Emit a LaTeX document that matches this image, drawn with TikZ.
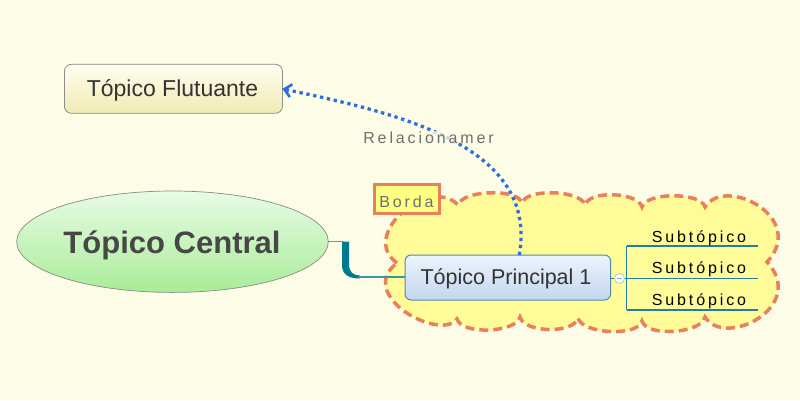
\documentclass[tikz,border=0pt]{standalone}
\usepackage{fontspec}
\setmainfont{Liberation Sans}
\newfontfamily\spaced[LetterSpace=18]{Liberation Sans}
\usetikzlibrary{arrows.meta,shapes.geometric}
\definecolor{bg}{HTML}{FDFCE6}
\definecolor{floattop}{HTML}{FFFDF0}
\definecolor{floatbot}{HTML}{F1EBB2}
\definecolor{floatborder}{HTML}{8C8C8C}
\definecolor{centtop}{HTML}{E8FBE6}
\definecolor{centbot}{HTML}{A8EC98}
\definecolor{centborder}{HTML}{8A8A8A}
\definecolor{princtop}{HTML}{EEF4FC}
\definecolor{princbot}{HTML}{C2D6EF}
\definecolor{princborder}{HTML}{4F8BA8}
\definecolor{teal}{HTML}{007A8E}
\definecolor{thinteal}{HTML}{3C96A2}
\definecolor{subline}{HTML}{1F7FA0}
\definecolor{cloudfill}{HTML}{FFFB98}
\definecolor{cloudline}{HTML}{E9805C}
\definecolor{bordafill}{HTML}{FFFF84}
\definecolor{relblue}{HTML}{2C6EE2}
\definecolor{labelgray}{HTML}{6E6E6E}
\definecolor{textdark}{HTML}{333333}
\begin{document}
\begin{tikzpicture}[x=1pt,y=-1pt,
  topicbox/.style={draw, rounded corners=7pt, inner sep=0pt, outer sep=0pt},
  txt/.style={anchor=base, inner sep=0pt, outer sep=0pt},
  subtxt/.style={txt, font=\spaced\fontsize{16}{18}\selectfont, text=black},
  spacedlbl/.style={txt, font=\spaced\fontsize{16}{18}\selectfont, text=labelgray},
  sublinestyle/.style={draw=subline, line width=1.2pt},
  rel/.style={draw=relblue, line width=3.3pt, dash pattern=on 3.3pt off 3.7pt,
     -{Straight Barb[length=7pt,width=13pt,line width=2.6pt]}}
]
\useasboundingbox (0,0) rectangle (800,400);
\fill[bg] (0,0) rectangle (800,400);

% cloud boundary
\draw[cloudline, fill=cloudfill, line width=3.5pt, dash pattern=on 9pt off 5pt]
  (397,263) .. controls (358,235) and (430,175) .. (458,205)
  .. controls (462,190) and (518,188) .. (522,203)
  .. controls (526,188) and (581,190) .. (585,205)
  .. controls (589,190) and (638,192) .. (642,207)
  .. controls (646,192) and (701,192) .. (705,207)
  .. controls (725,175) and (808,218) .. (767,262)
  .. controls (808,306) and (725,349) .. (705,317)
  .. controls (701,334) and (646,337) .. (642,321)
  .. controls (638,337) and (582,334) .. (578,318)
  .. controls (574,334) and (524,333) .. (520,317)
  .. controls (516,333) and (461,335) .. (457,319)
  .. controls (440,342) and (355,295) .. (397,263) -- cycle;

% Borda label
\node[draw=cloudline, line width=3pt, fill=bordafill, minimum width=65pt,
  minimum height=29pt, inner sep=0pt, outer sep=0pt] (borda) at (406.5,199) {};
\node[spacedlbl] (bordat) at (406.5,207.3) {Borda};

% central topic
\node[ellipse, draw=centborder, line width=0.7pt, top color=centtop, bottom color=centbot,
  minimum width=311.6pt, minimum height=101.4pt, inner sep=0pt, outer sep=0pt] (c) at (172.5,241.7) {};
\node[txt, font=\bfseries\fontsize{31}{36}\selectfont, text=textdark!90] (ct) at (172,253.3) {Tópico Central};

% floating topic
\node[topicbox, draw=floatborder, line width=0.8pt, top color=floattop, bottom color=floatbot,
  minimum width=218pt, minimum height=49pt] (f) at (173.4,88.8) {};
\node[txt, font=\fontsize{23}{27}\selectfont, text=textdark] (ft) at (172.5,96.7) {Tópico Flutuante};

% main topic
\node[topicbox, draw=princborder, line width=1pt, top color=princtop, bottom color=princbot,
  minimum width=205.5pt, minimum height=45pt, rounded corners=6pt] (p) at (507.8,277.5) {};
\node[txt, font=\fontsize{21.5}{25}\selectfont, text=textdark] (pt) at (506,284) {Tópico Principal 1};

% connector central -> main
\coordinate (k1) at (343,241.7);
\coordinate (k2) at (358,277);
\draw[floatborder, line width=1pt] (c.east) -- (k1);
\fill[teal] (342,241.7) -- (342,265) .. controls (342,274) and (348,278.5) .. (360,278.5)
  -- (360,275.5) .. controls (353,275.5) and (349,272) .. (349,264) -- (349,241.7) -- cycle;
\draw[thinteal, line width=1.8pt] (k2) -- (p.west |- k2);

% collapse button and subtopics
\coordinate (j) at (626.7,278.3);
\coordinate (jt) at (626.7,246);
\coordinate (jb) at (626.7,310);
\draw[sublinestyle] (p.east |- j) -- (j);
\draw[sublinestyle] (jt) -- (jb);
\draw[sublinestyle] (jt) -- (758,246);
\draw[sublinestyle] (j) -- (758,278.3);
\draw[sublinestyle] (jb) -- (758,310);
\node[circle, draw=princborder!50, fill=white, line width=0.7pt, minimum size=10pt,
  inner sep=0pt] (btn) at (619.5,278.5) {};
\draw[princborder!70, line width=1pt] ([xshift=-2.8pt]btn.center) -- ([xshift=2.8pt]btn.center);
\node[subtxt] (s1) at (699,242) {Subtópico};
\node[subtxt] (s2) at (699,273.5) {Subtópico};
\node[subtxt] (s3) at (699,305) {Subtópico};

% relationship
\draw[rel] ([xshift=11.5pt]p.north) to[out=80,in=-12] (f.east);
\node[spacedlbl, fill=bg, fill opacity=0.75, text opacity=1] (rl) at (428.5,143) {Relacionamer};
\end{tikzpicture}
\end{document}
